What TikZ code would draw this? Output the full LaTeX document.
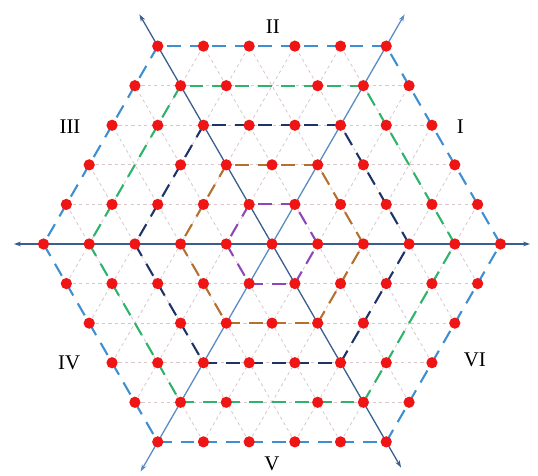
\documentclass[tikz,border=0pt]{standalone}
\usepackage{fontspec}
\setmainfont{Liberation Serif}
\usetikzlibrary{arrows.meta}
\definecolor{axislight}{HTML}{5A8CC6}
\definecolor{axisdark}{HTML}{3A5F8E}
\definecolor{hexblue}{HTML}{3D8FD1}
\definecolor{hexgreen}{HTML}{2DB36A}
\definecolor{hexnavy}{HTML}{1E3468}
\definecolor{hexbrown}{HTML}{B4702F}
\definecolor{hexpurple}{HTML}{8E47B8}
\definecolor{dotred}{HTML}{F01515}
\definecolor{gridpink}{HTML}{D8C6CA}

\begin{document}
\begin{tikzpicture}[
    every node/.style={font=\fontsize{13}{15}\selectfont, text=black},
    lattice/.style={gridpink, line width=0.5pt, dash pattern=on 2pt off 2pt},
    ring/.style={line width=1.3pt, dash pattern=on 8.6pt off 5.6264pt},
    axis/.style={line width=0.8pt, {Stealth[length=4.5pt,width=3pt]}-{Stealth[length=4.5pt,width=3pt]}},
    dot/.style={circle, fill=dotred, minimum size=7pt, inner sep=0pt}
  ]
    \useasboundingbox (-5.952,-5.077) rectangle (5.821,5.339);

    % Lattice lines
    \foreach \a in {0,60,120}{
      \foreach \r in {-4,...,4}{
        \draw[lattice, rotate=\a] ({-5+abs(\r)/2}, \r*0.8660) -- ({5-abs(\r)/2}, \r*0.8660);
      }
    }

    % Hexagons
    \foreach \R/\c in {1/hexpurple, 2/hexbrown, 3/hexnavy, 4/hexgreen, 5/hexblue}{
      \foreach \a in {0,60,...,300}{
        \draw[ring, \c] (\a:\R) -- (\a+60:\R);
      }
    }

    % Axes
    \coordinate (xl) at (180:5.65);
    \coordinate (xr) at (0:5.65);
    \coordinate (ul) at (120:5.8);
    \coordinate (dr) at (300:5.65);
    \coordinate (ur) at (60:5.8);
    \coordinate (dl) at (240:5.75);
    \draw[axis, axisdark] (xl) -- (xr);
    \draw[axis, axisdark] (ul) -- (dr);
    \draw[axis, axislight] (dl) -- (ur);

    % Lattice points
    \foreach \r/\xs in {5/{-2.5,-1.5,-0.5,0.5,1.5,2.5},
                        4/{-3,-2,-1,1,2,3},
                        3/{-3.5,-2.5,-1.5,-0.5,0.5,1.5,2.5,3.5},
                        2/{-4,-2,-1,0,1,2,4},
                        1/{-4.5,-3.5,-2.5,-1.5,-0.5,0.5,1.5,2.5,3.5,4.5},
                        0/{-5,-4,-3,-2,-1,0,1,2,3,4,5},
                        -1/{-4.5,-3.5,-2.5,-1.5,-0.5,0.5,1.5,2.5,3.5,4.5},
                        -2/{-4,-2,-1,0,1,2,4},
                        -3/{-3.5,-2.5,-1.5,-0.5,0.5,1.5,2.5,3.5},
                        -4/{-3,-2,-1,1,2,3},
                        -5/{-2.5,-1.5,-0.5,0.5,1.5,2.5}}{
      \foreach \x [count=\i] in \xs{
        \node[dot] (p\r-\i) at (\x, \r*0.8660) {};
      }
    }

    % Sectors
    \node (s1) at (4.12, 2.56) {I};
    \node (s2) at (0.02, 4.75) {II};
    \node (s3) at (-4.42, 2.56) {III};
    \node (s4) at (-4.44, -2.6) {IV};
    \node (s5) at (0, -4.8) {V};
    \node (s6) at (4.44, -2.54) {VI};
  \end{tikzpicture}
\end{document}
